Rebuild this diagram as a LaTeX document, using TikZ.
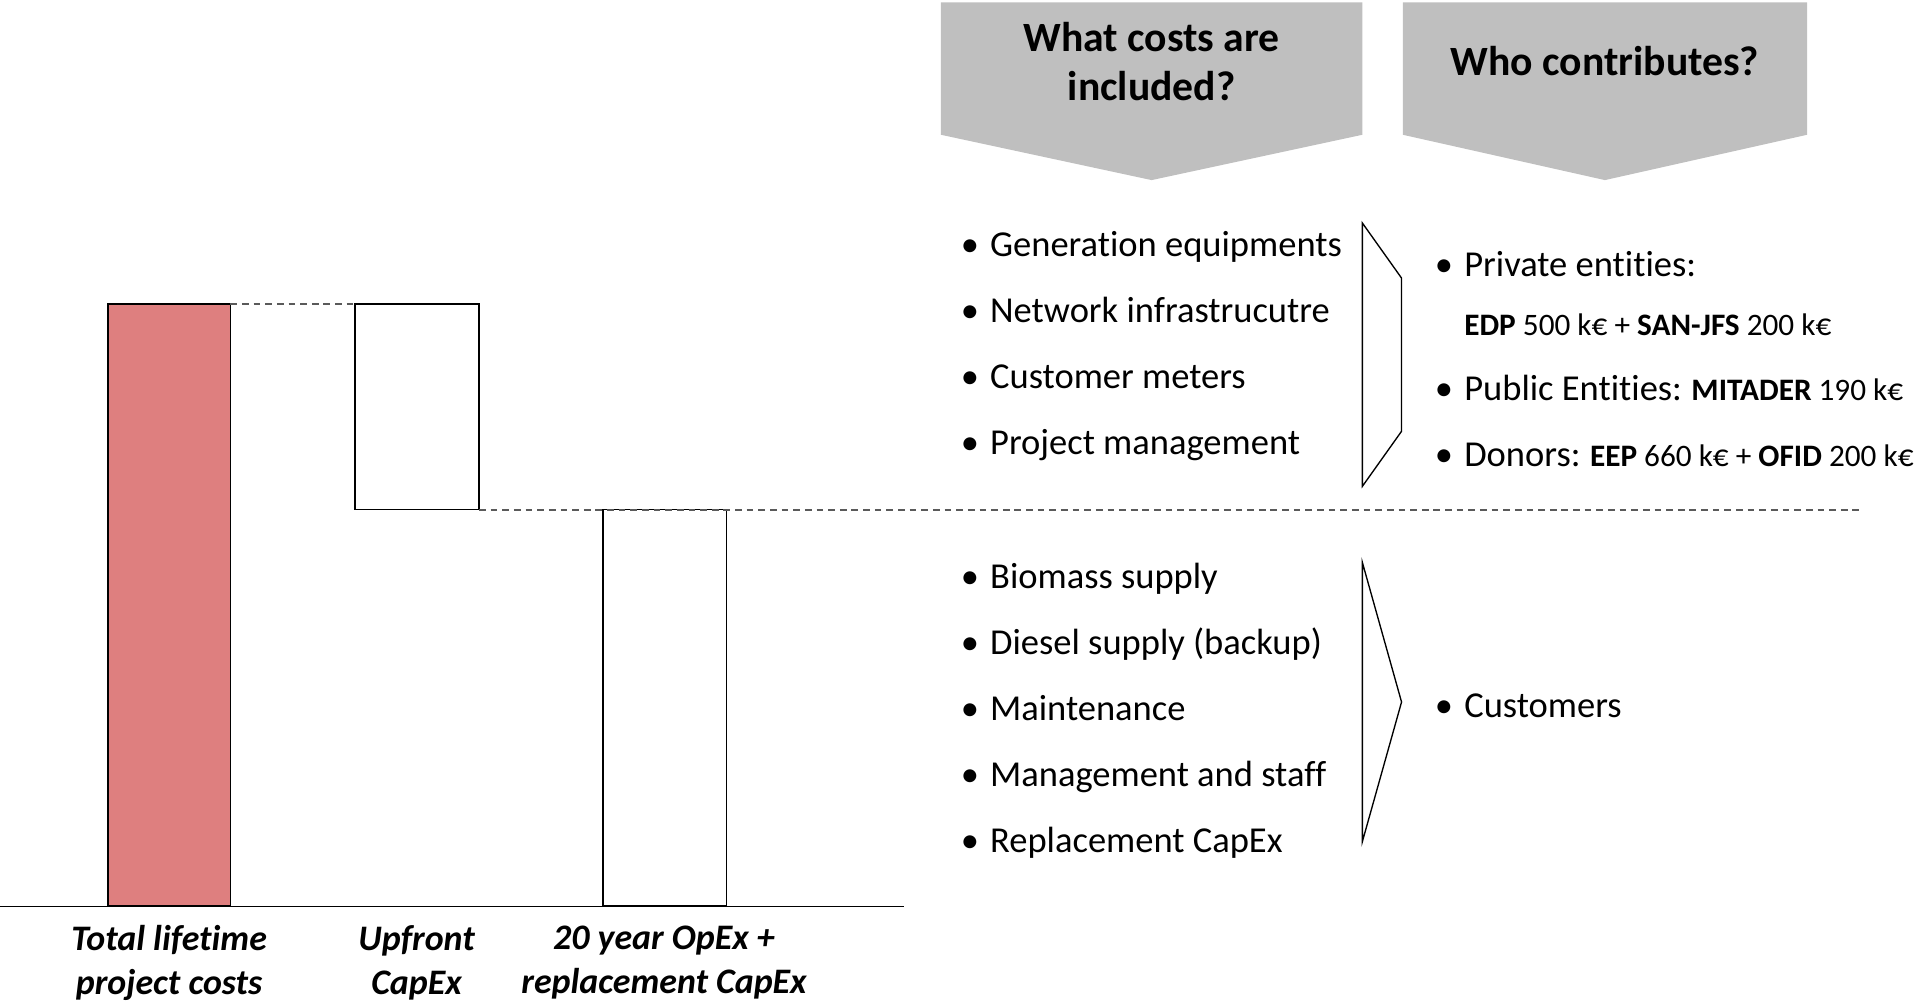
\documentclass[tikz,border=0pt]{standalone}
\usepackage{fontspec}
\setmainfont{Carlito}[Ligatures={NoCommon}]
\definecolor{hdrgray}{HTML}{BFBFBF}
\definecolor{barred}{HTML}{DE7F7F}
\definecolor{dashgray}{HTML}{5A5A5A}
\tikzset{
  hdr/.style={fill=hdrgray, draw=none},
  hdrtext/.style={font=\fontsize{34}{40}\selectfont\bfseries, align=center, inner sep=0pt},
  bar/.style={draw=black, line width=1.3},
  guide/.style={draw=dashgray, line width=1.4, dash pattern=on 5.5 off 4},
  item/.style={font=\fontsize{29.8}{35}\selectfont, anchor=base west, inner sep=0pt},
  smallitem/.style={font=\fontsize{25.5}{30}\selectfont, anchor=base west, inner sep=0pt},
  bul/.style={font=\fontsize{29.8}{35}\selectfont, anchor=base west, inner sep=0pt},
  bracket/.style={draw=black, line width=1.1, line join=miter},
  barlabel/.style={font=\fontsize{29.3}{36}\selectfont\bfseries\itshape, align=center, inner sep=0pt},
}
\begin{document}
\begin{tikzpicture}[x=1pt,y=-1pt]
\useasboundingbox (0,0) rectangle (1568,820);
% headers
\path[hdr] (768,2) -- (1112,2) -- (1112,110) -- (940,147) -- (768,110) -- cycle;
\path[hdr] (1145,2) -- (1475,2) -- (1475,110) -- (1310,147) -- (1145,110) -- cycle;
\node[hdrtext] (h1) at (940,50) {What costs are\\included?};
\node[hdrtext] (h2) at (1310,50) {Who contributes?};
% bars
\draw[bar, fill=barred] (88,248) rectangle (188,739);
\draw[bar] (290,248) rectangle (391,416);
\draw[bar] (492,416) rectangle (593,739);
\draw[line width=1.2] (0,740) -- (738,740);
\draw[guide] (188,248) -- (290,248);
\draw[guide] (391,416) -- (1520,416);
% bar labels
\node[barlabel] (l1) at (138,786) {Total lifetime\\project costs};
\node[barlabel] (l2) at (340,786) {Upfront\\CapEx};
\node[barlabel] (l3) at (542,786) {20 year OpEx +\\replacement CapEx};
% upper list
\foreach \y/\t [count=\i] in {209/Generation equipments, 263/Network infrastrucutre, 317/Customer meters, 371/Project management}{
  \node[bul] (ub\i) at (784,\y) {•};
  \node[item] (u\i) at (808,\y) {\t};
}
% lower list
\foreach \y/\t [count=\i] in {480/Biomass supply, 534/Diesel supply (backup), 588/Maintenance, 642/Management and staff, 696/Replacement CapEx}{
  \node[bul] (lb\i) at (784,\y) {•};
  \node[item] (d\i) at (808,\y) {\t};
}
% brackets
\draw[bracket] (1112,182) -- (1144,227) -- (1144,352) -- (1112,397) -- cycle;
\draw[bracket] (1112,459) -- (1144,573) -- (1112,687) -- cycle;
% contributors
\node[bul] (cb1) at (1171,226) {•};
\node[item] (c1) at (1195,226) {Private entities:};
\node[smallitem] (c1b) at (1195,274) {\textbf{EDP} 500 k€ + \textbf{SAN-JFS} 200 k€};
\node[bul] (cb2) at (1171,327) {•};
\node[item] (c2) at (1195,327) {Public Entities:{\fontsize{25.5}{30}\selectfont{} \textbf{MITADER} 190 k€}};
\node[bul] (cb3) at (1171,381) {•};
\node[item] (c3) at (1195,381) {Donors:{\fontsize{25.5}{30}\selectfont{} \textbf{EEP} 660 k€ + \textbf{OFID} 200 k€}};
\node[bul] (cb4) at (1171,586) {•};
\node[item] (c4) at (1195,586) {Customers};
\end{tikzpicture}
\end{document}
